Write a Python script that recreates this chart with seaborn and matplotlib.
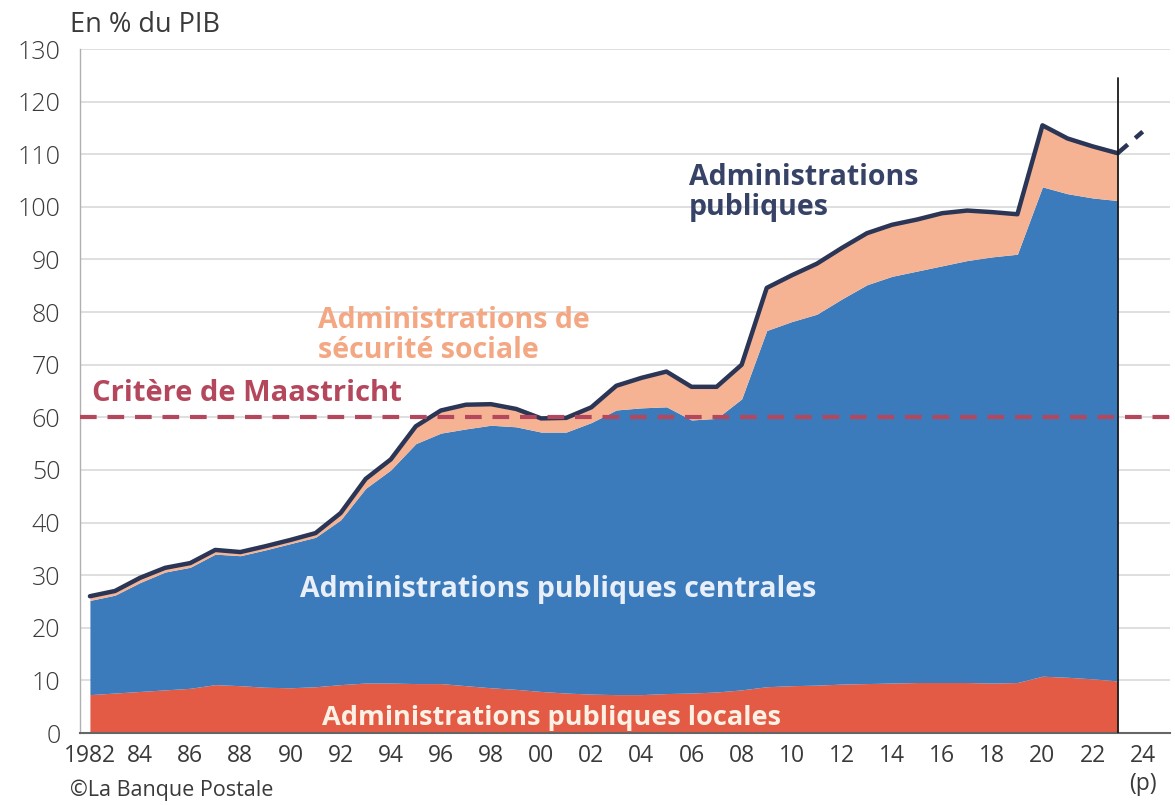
import matplotlib
matplotlib.use("Agg")
import matplotlib.pyplot as plt
import seaborn as sns
import numpy as np
import pandas as pd

# =====================================================
# Data (en % du PIB)
# =====================================================
years = list(range(1982, 2024))

locales = [7.3, 7.6, 7.9, 8.2, 8.5, 9.2, 9.0, 8.7, 8.6, 8.8,
           9.2, 9.5, 9.5, 9.4, 9.4, 9.0, 8.6, 8.3, 7.9, 7.6,
           7.4, 7.3, 7.3, 7.5, 7.6, 7.8, 8.2, 8.8, 9.0, 9.1,
           9.3, 9.4, 9.5, 9.6, 9.6, 9.6, 9.5, 9.6, 10.8, 10.6,
           10.3, 9.9]

centrales = [17.9, 18.6, 20.7, 22.4, 23.0, 24.8, 24.7, 26.1, 27.4, 28.4,
             31.3, 37.0, 40.5, 45.6, 47.6, 48.8, 49.9, 49.9, 49.3, 49.6,
             51.6, 54.1, 54.5, 54.5, 51.9, 52.0, 55.3, 67.7, 69.2, 70.5,
             73.2, 75.8, 77.3, 78.2, 79.2, 80.2, 81.0, 81.4, 93.0, 91.9,
             91.4, 91.3]

secu = [0.8, 0.8, 0.9, 0.8, 0.8, 0.8, 0.7, 0.7, 0.7, 0.8,
        1.3, 1.8, 2.0, 3.3, 4.3, 4.6, 4.0, 3.4, 2.6, 2.7,
        2.9, 4.6, 5.7, 6.7, 6.3, 6.0, 6.5, 8.1, 8.8, 9.6,
        9.7, 9.8, 9.8, 9.8, 10.0, 9.5, 8.5, 7.6, 11.7, 10.5,
        9.8, 9.0]

prev_years = [2023, 2024]
prev_values = [110.2, 114.3]

maastricht = 60

tick_years = list(range(1982, 2025, 2))
tick_labels = ["1982"] + [f"{y % 100:02d}" for y in tick_years[1:-1]] + ["24\n(p)"]

COLORS = {
    "locales": "#e35b45",
    "centrales": "#3b7bbb",
    "secu": "#f5b394",
    "total": "#2b3656",
    "maastricht": "#b5475c",
    "grid": "#d9d9d9",
    "text": "#3a3a3a",
}

df = pd.DataFrame({"annee": years, "locales": locales,
                   "centrales": centrales, "secu": secu})
df["total"] = df["locales"] + df["centrales"] + df["secu"]
prev_df = pd.DataFrame({"annee": prev_years, "total": prev_values})

# =====================================================
# Chart
# =====================================================
sns.set_theme(style="whitegrid")
plt.rcParams["font.family"] = ["Open Sans", "DejaVu Sans"]

fig = plt.figure(figsize=(11.75, 8.05), dpi=100)
ax = fig.add_axes([0.068, 0.0894, 0.928, 0.8497])

ax.stackplot(df["annee"], df["locales"], df["centrales"], df["secu"],
             colors=[COLORS["locales"], COLORS["centrales"], COLORS["secu"]],
             linewidth=0, zorder=2)

sns.lineplot(data=df, x="annee", y="total", color=COLORS["total"],
             linewidth=3.2, ax=ax, zorder=4)
sns.lineplot(data=prev_df, x="annee", y="total", color=COLORS["total"],
             linewidth=3.2, ax=ax, zorder=4, dashes=False,
             linestyle=(0, (3, 2.2)))

ax.axhline(maastricht, color=COLORS["maastricht"], linewidth=3,
           linestyle=(0, (4, 2.6)), zorder=5)
ax.axvline(years[-1], ymin=0, ymax=0.958, color="#1a1a1a",
           linewidth=1.3, zorder=6)

ax.set_xlim(1981.6, 2025.1)
ax.set_ylim(0, 130)
ax.set_yticks(range(0, 131, 10))
ax.set_xticks(tick_years)
ax.set_xticklabels(tick_labels)
ax.set_xlabel("")
ax.set_ylabel("")

ax.grid(axis="y", color=COLORS["grid"], linewidth=1.2)
ax.grid(axis="x", visible=False)
for side in ["top", "right"]:
    ax.spines[side].set_visible(False)
ax.spines["left"].set_color("#b0b0b0")
ax.spines["left"].set_linewidth(1)
ax.spines["bottom"].set_color("#666666")
ax.spines["bottom"].set_linewidth(1.5)

ax.tick_params(axis="y", labelsize=18, colors=COLORS["text"], length=0, pad=14)
ax.tick_params(axis="x", labelsize=16.5, colors=COLORS["text"], length=0, pad=8)
for lab in ax.get_yticklabels():
    lab.set_fontweight("light")

# Labels
ax.text(1982.1, 64.6, "Critère de Maastricht", color=COLORS["maastricht"],
        fontsize=21, fontweight="bold", va="center", ha="left", zorder=7)
ax.text(1991.1, 75.6, "Administrations de\nsécurité sociale", color="#f3a783",
        fontsize=20.5, fontweight="bold", va="center", ha="left",
        linespacing=1.05, zorder=7)
ax.text(2005.9, 102.8, "Administrations\npubliques", color="#364266",
        fontsize=20.5, fontweight="bold", va="center", ha="left",
        linespacing=1.05, zorder=7)
ax.text(2000.7, 27.2, "Administrations publiques centrales", color="#e9eff8",
        fontsize=20.5, fontweight="bold", va="center", ha="center", zorder=7)
ax.text(2000.4, 2.9, "Administrations publiques locales", color="#fdf0e4",
        fontsize=19.5, fontweight="bold", va="center", ha="center", zorder=7)

fig.text(70 / 1175, 1 - 25 / 805, "En % du PIB", fontsize=19.5,
         color=COLORS["text"], va="center", ha="left")
fig.text(70 / 1175, 1 - 790 / 805, "©La Banque Postale", fontsize=15.5,
         color=COLORS["text"], va="center", ha="left")

fig.savefig("out.png", dpi=100)
plt.close(fig)
